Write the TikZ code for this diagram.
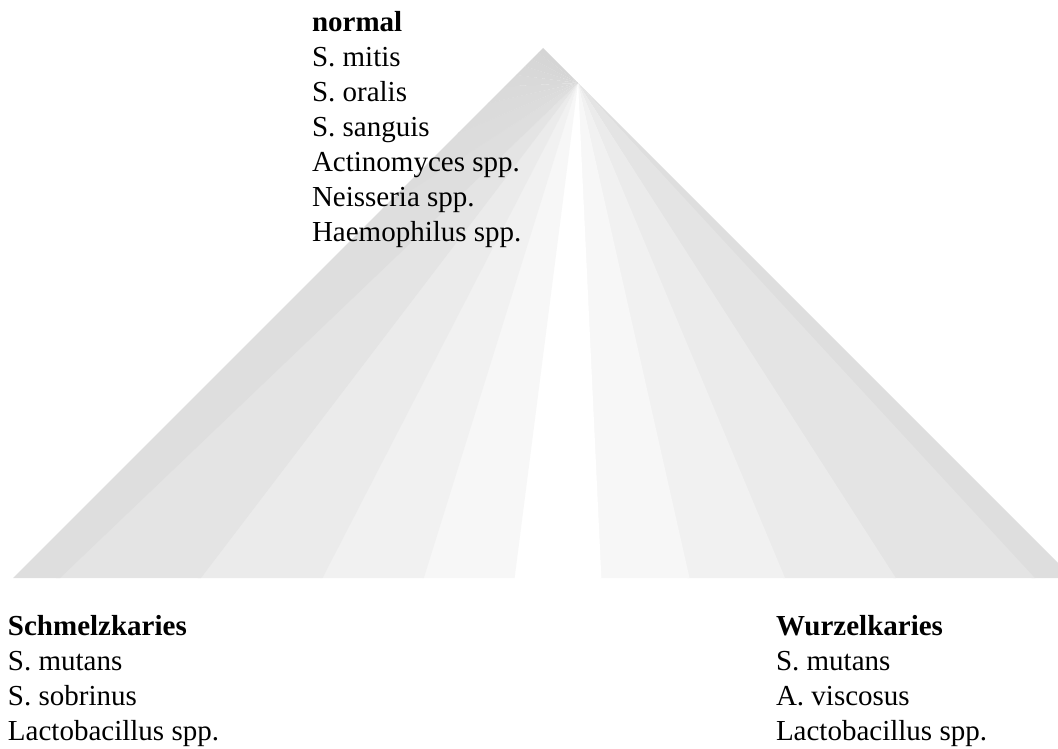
\documentclass[tikz,border=0pt]{standalone}
\usepackage{fontspec}
\setmainfont{Liberation Serif}
\newcommand{\labfont}{\fontsize{29}{35}\selectfont}
\begin{document}
\begin{tikzpicture}[x=1pt,y=-1pt,
  every node/.style={inner sep=0pt,outer sep=0pt},
  lab/.style={anchor=base west,align=left,font=\labfont}]
\useasboundingbox (0,0) rectangle (1058,749);
\coordinate (apex) at (543,48);
\coordinate (bl) at (13,578);
\coordinate (br) at (1073,578);
\coordinate (F) at (578,83);
\begin{scope}
  \clip (0,0) rectangle (1058,749);
  \clip (apex) -- (bl) -- (br) -- cycle;
  \foreach \a/\b/\g in {-50/-42.5/222, -42.5/-32.5/228, -32.5/-22.5/235, -22.5/-12.5/241,
      -12.5/-2.5/247, -2.5/7.5/255, 7.5/17.5/247, 17.5/27.5/241, 27.5/37.5/235,
      37.5/46.5/228, 46.5/57.5/222, 57.5/67.5/220, 67.5/77.5/219, 77.5/87.5/218,
      87.5/97.5/217, 97.5/107.5/216, 107.5/117.5/215, 117.5/127.5/214, 127.5/145/213} {
    \fill[color={rgb,255:red,\g;green,\g;blue,\g}]
      (F) -- ({578-1500*sin(\a-0.2)},{83+1500*cos(\a-0.2)})
          -- ({578-1500*sin(\b)},{83+1500*cos(\b)}) -- cycle;
  }
\end{scope}
\node[lab] (normal) at (312,241) {\textbf{normal}\\S. mitis\\S. oralis\\S. sanguis\\Actinomyces spp.\\Neisseria spp.\\Haemophilus spp.};
\node[lab] (schmelz) at (8,740) {\textbf{Schmelzkaries}\\S. mutans\\S. sobrinus\\Lactobacillus spp.};
\node[lab] (wurzel) at (776,740) {\textbf{Wurzelkaries}\\S. mutans\\A. viscosus\\Lactobacillus spp.};
\end{tikzpicture}
\end{document}
